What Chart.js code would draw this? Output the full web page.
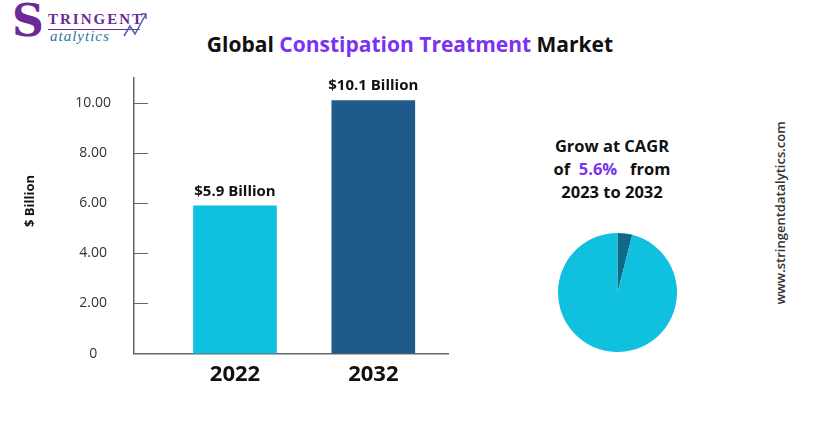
<!DOCTYPE html>
<html lang="en">
<head>
  <meta charset="UTF-8" />
  <title>Global Constipation Treatment Market</title>
  <script src="https://cdn.jsdelivr.net/npm/chart.js"></script>
  <style>
    body { margin: 0; background: #fff; font-family: "Open Sans", sans-serif; }
    .page { position: relative; width: 816px; height: 426px; overflow: hidden; }
    .logo { position: absolute; left: 10px; top: 4px; width: 150px; height: 46px; }
    .logo .s { position: absolute; left: 2px; top: -9px; font: 700 44px "DejaVu Serif", serif; color: #6a2a9a; }
    .logo .tr { position: absolute; left: 38px; top: 7px; font: 700 15px "Liberation Serif", serif; letter-spacing: 2px; color: #6a2a9a; }
    .logo .line { position: absolute; left: 38px; top: 25px; width: 92px; height: 1px; background: #6a2a9a; }
    .logo .d { position: absolute; left: 40px; top: 24px; font: italic 15px "Liberation Serif", serif; color: #2a7a98; letter-spacing: 1px; }
    .logo svg { position: absolute; left: 112px; top: 6px; }
    .title { position: absolute; left: 0; width: 820px; top: 30px; text-align: center; font: 700 21px "Open Sans", sans-serif; color: #111; }
    .title span { color: #7a33f0; }
    .ytitle { position: absolute; left: 29px; top: 201px; transform: translate(-50%, -50%) rotate(-90deg); white-space: nowrap; font: 700 13px "Open Sans", sans-serif; color: #111; }
    .cagr { position: absolute; left: 527px; width: 170px; top: 134px; text-align: center; font: 700 16.5px/23px "Open Sans", sans-serif; color: #111; }
    .cagr span { color: #7a33f0; }
    .site { position: absolute; left: 780px; top: 213px; transform: translate(-50%, -50%) rotate(-90deg); white-space: nowrap; font: 600 13px "Open Sans", sans-serif; color: #333; }
    #barWrap { position: absolute; left: 0; top: 6px; width: 470px; height: 400px; }
    #pieWrap { position: absolute; left: 558px; top: 233px; width: 119px; height: 119px; }
  </style>
</head>
<body>
<div class="page">
  <div class="logo">
    <div class="s">S</div>
    <div class="tr">TRINGENT</div>
    <div class="line"></div>
    <div class="d">atalytics</div>
    <svg width="30" height="30" viewBox="0 0 30 30">
      <polyline points="2,26 8,16 13,24 24,4" fill="none" stroke="#4a5fb0" stroke-width="1.5"/>
      <polyline points="19,4 24,4 24,9" fill="none" stroke="#4a5fb0" stroke-width="1.5"/>
    </svg>
  </div>

  <div class="title">Global <span>Constipation Treatment</span> Market</div>

  <div id="barWrap"><canvas id="barChart"></canvas></div>
  <div class="ytitle">$ Billion</div>

  <div class="cagr">Grow at CAGR<br>of&nbsp; <span>5.6%</span>&nbsp;&nbsp; from<br>2023 to 2032</div>
  <div id="pieWrap"><canvas id="pieChart"></canvas></div>

  <div class="site">www.stringentdatalytics.com</div>
</div>

<script>
  // values
  const years = [2022, 2032];
  const marketSize = [5.9, 10.1];
  const barLabels = ['$5.9 Billion', '$10.1 Billion'];
  const barColors = ['#0fc0df', '#1f5a8b'];
  const yTicks = [0, 2, 4, 6, 8, 10];
  const yTickLabels = ['0', '2.00', '4.00', '6.00', '8.00', '10.00'];
  const pieValues = [4, 96];
  const pieColors = ['#0e6a86', '#0fc0df'];

  // small inward tick marks on the y axis + value labels above bars
  const extras = {
    id: 'extras',
    afterDatasetsDraw(chart) {
      const ctx = chart.ctx;
      const y = chart.scales.y;
      const area = chart.chartArea;
      ctx.save();
      ctx.strokeStyle = '#666';
      ctx.lineWidth = 1;
      yTicks.forEach(v => {
        if (v === 0) return;
        const py = Math.round(y.getPixelForValue(v)) + 0.5;
        ctx.beginPath();
        ctx.moveTo(area.left, py);
        ctx.lineTo(area.left + 14, py);
        ctx.stroke();
      });
      ctx.fillStyle = '#111';
      ctx.font = '700 15px "Open Sans", sans-serif';
      ctx.textAlign = 'center';
      ctx.textBaseline = 'bottom';
      chart.getDatasetMeta(0).data.forEach((bar, i) => {
        ctx.fillText(barLabels[i], bar.x, bar.y - 7);
      });
      ctx.restore();
    }
  };

  new Chart(document.getElementById('barChart'), {
    type: 'bar',
    data: {
      datasets: [{
        data: years.map((yr, i) => ({ x: yr, y: marketSize[i] })),
        backgroundColor: barColors,
        barThickness: 83
      }]
    },
    options: {
      responsive: true,
      maintainAspectRatio: false,
      animation: false,
      layout: { padding: { left: 21, top: 72, right: 22, bottom: 10 } },
      plugins: { legend: { display: false }, tooltip: { enabled: false } },
      scales: {
        x: {
          type: 'linear',
          offset: false,
          min: 2014.7,
          max: 2037.4,
          afterBuildTicks: s => { s.ticks = years.map(v => ({ value: v })); },
          grid: { display: false, drawTicks: false, offset: false },
          border: { color: '#666', width: 1.5 },
          ticks: {
            padding: 8,
            color: '#111',
            font: { family: 'Open Sans', size: 22, weight: '700' },
            callback: v => String(v)
          }
        },
        y: {
          min: 0,
          max: 11,
          afterBuildTicks: s => { s.ticks = yTicks.map(v => ({ value: v })); },
          afterFit: s => { s.width = 113; },
          grid: { display: false, drawTicks: false },
          border: { color: '#666', width: 1.5 },
          ticks: {
            crossAlign: 'center',
            padding: 23,
            color: '#333',
            font: { family: 'Open Sans', size: 14 },
            callback: v => yTickLabels[yTicks.indexOf(v)]
          }
        }
      }
    },
    plugins: [extras]
  });

  new Chart(document.getElementById('pieChart'), {
    type: 'pie',
    data: {
      labels: ['CAGR', 'Rest'],
      datasets: [{ data: pieValues, backgroundColor: pieColors, borderWidth: 0 }]
    },
    options: {
      responsive: true,
      maintainAspectRatio: false,
      animation: false,
      layout: { padding: 0 },
      plugins: { legend: { display: false }, tooltip: { enabled: false } }
    }
  });
</script>
</body>
</html>
